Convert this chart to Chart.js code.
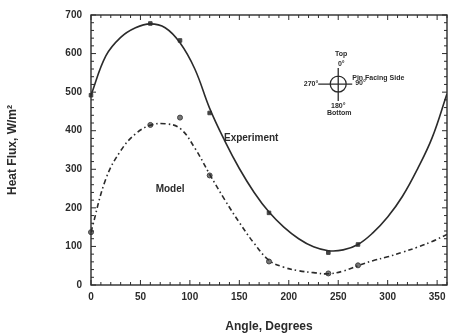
<!DOCTYPE html>
<html>
<head>
<meta charset="utf-8">
<script src="https://cdn.jsdelivr.net/npm/chart.js@4.4.1/dist/chart.umd.min.js"></script>
<style>
  html, body { margin: 0; padding: 0; background: #fff; }
  #wrap { width: 452px; height: 334px; }
</style>
</head>
<body>
<div id="wrap"><canvas id="myChart" width="452" height="334"></canvas></div>
<script>
'use strict';

// measured points
const angles = [0, 60, 90, 120, 180, 240, 270];
const experiment = [492, 678, 634, 446, 187, 84, 105];
const model = [137, 415, 434, 284, 61, 30, 51];

// fitted curves
const curveAngles = [0, 15, 30, 45, 60, 75, 90, 105, 120, 135, 150, 165, 180, 195, 210, 225, 240, 255, 270, 285, 300, 315, 330, 345, 360];
const experimentCurve = [492, 594, 642, 667, 677, 667, 628, 560, 458, 375, 302, 240, 189, 150, 120, 99, 89, 91, 105, 135, 176, 230, 300, 382, 496];
const modelCurve = [137, 275, 348, 392, 414, 418, 406, 355, 287, 222, 162, 108, 64, 46, 37, 32, 29, 36, 50, 63, 73, 85, 98, 113, 131];

const xTicks = [0, 50, 100, 150, 200, 250, 300, 350];
const yTicks = [0, 100, 200, 300, 400, 500, 600, 700];

const ink = '#2b2b2b';
const pairs = (xs, ys) => xs.map((x, i) => ({ x: x, y: ys[i] }));

const framePlugin = {
    id: 'frame',
    afterDatasetsDraw(chart) {
        const { ctx, chartArea: a, scales: { x, y } } = chart;
        ctx.save();
        ctx.strokeStyle = ink;
        ctx.lineWidth = 1.4;
        ctx.strokeRect(a.left, a.top, a.right - a.left, a.bottom - a.top);
        ctx.lineWidth = 1;
        ctx.beginPath();
        for (let v = 0; v <= 360; v += 10) {
            const px = x.getPixelForValue(v);
            const len = v % 50 === 0 ? 5 : 3;
            ctx.moveTo(px, a.bottom); ctx.lineTo(px, a.bottom - len);
            ctx.moveTo(px, a.top); ctx.lineTo(px, a.top + len);
        }
        for (let v = 0; v <= 700; v += 20) {
            const py = y.getPixelForValue(v);
            const len = v % 100 === 0 ? 5 : 3;
            ctx.moveTo(a.left, py); ctx.lineTo(a.left + len, py);
            ctx.moveTo(a.right, py); ctx.lineTo(a.right - len, py);
        }
        ctx.stroke();
        ctx.restore();
    }
};

const notesPlugin = {
    id: 'notes',
    afterDraw(chart) {
        const { ctx, scales: { x, y } } = chart;
        ctx.save();
        ctx.fillStyle = ink;
        ctx.textAlign = 'center';
        ctx.textBaseline = 'middle';
        ctx.font = 'bold 10px "Liberation Sans", Arial, sans-serif';
        ctx.fillText('Experiment', x.getPixelForValue(162), y.getPixelForValue(381));
        ctx.fillText('Model', x.getPixelForValue(80), y.getPixelForValue(248));

        // orientation sketch
        const cx = x.getPixelForValue(250);
        const cy = y.getPixelForValue(521);
        ctx.strokeStyle = ink;
        ctx.lineWidth = 1.3;
        ctx.beginPath();
        ctx.arc(cx, cy, 8, 0, Math.PI * 2);
        ctx.moveTo(cx - 20, cy); ctx.lineTo(cx + 14, cy);
        ctx.moveTo(cx, cy - 16); ctx.lineTo(cx, cy + 17);
        ctx.stroke();
        ctx.font = 'bold 7px "Liberation Sans", Arial, sans-serif';
        ctx.fillText('Top', cx + 3, cy - 30);
        ctx.fillText('0\u00b0', cx + 3, cy - 20);
        ctx.fillText('180\u00b0', cx, cy + 22);
        ctx.fillText('Bottom', cx + 1, cy + 29);
        ctx.textAlign = 'right';
        ctx.fillText('270\u00b0', cx - 20, cy);
        ctx.textAlign = 'left';
        ctx.fillText('Pin Facing Side', cx + 14, cy - 6);
        ctx.fillText('90\u00b0', cx + 17, cy - 1);
        ctx.restore();
    }
};

const data = {
    datasets: [
        {
            label: 'Experiment fit',
            data: pairs(curveAngles, experimentCurve),
            showLine: true,
            borderColor: ink,
            borderWidth: 1.6,
            pointRadius: 0,
            tension: 0.4,
            fill: false
        },
        {
            label: 'Model fit',
            data: pairs(curveAngles, modelCurve),
            showLine: true,
            borderColor: ink,
            borderWidth: 1.6,
            borderDash: [5, 3, 1.5, 3],
            pointRadius: 0,
            tension: 0.4,
            fill: false
        },
        {
            label: 'Experiment',
            data: pairs(angles, experiment),
            showLine: false,
            clip: false,
            pointStyle: 'rect',
            pointRadius: 2.5,
            backgroundColor: '#444',
            borderColor: '#444',
            borderWidth: 1
        },
        {
            label: 'Model',
            data: pairs(angles, model),
            showLine: false,
            clip: false,
            pointStyle: 'circle',
            pointRadius: 2.5,
            backgroundColor: '#777',
            borderColor: '#444',
            borderWidth: 1
        }
    ]
};

const ctx = document.getElementById('myChart').getContext('2d');
const myChart = new Chart(ctx, {
    type: 'scatter',
    data: data,
    options: {
        responsive: false,
        animation: false,
        layout: { padding: { top: 11, right: 1, left: 0, bottom: 0 } },
        plugins: {
            legend: { display: false },
            tooltip: { enabled: false }
        },
        scales: {
            x: {
                type: 'linear',
                min: 0,
                max: 360,
                afterBuildTicks: s => { s.ticks = xTicks.map(v => ({ value: v })); },
                afterFit: s => { s.height = 49; },
                grid: { display: false, drawTicks: false },
                border: { display: false },
                ticks: {
                    color: ink,
                    padding: 6,
                    maxRotation: 0,
                    autoSkip: false,
                    font: { family: '"Liberation Sans", Arial, sans-serif', size: 10, weight: 'bold' }
                },
                title: {
                    display: true,
                    text: 'Angle, Degrees',
                    color: ink,
                    padding: { top: 0, bottom: 0 },
                    font: { family: '"Liberation Sans", Arial, sans-serif', size: 12, weight: 'bold' }
                }
            },
            y: {
                min: 0,
                max: 700,
                afterBuildTicks: s => { s.ticks = yTicks.map(v => ({ value: v })); },
                afterFit: s => { s.width = 91; },
                grid: { display: false, drawTicks: false },
                border: { display: false },
                ticks: {
                    color: ink,
                    padding: 9,
                    font: { family: '"Liberation Sans", Arial, sans-serif', size: 10, weight: 'bold' }
                },
                title: {
                    display: true,
                    text: 'Heat Flux, W/m\u00b2',
                    color: ink,
                    padding: { top: 5, bottom: 0 },
                    font: { family: '"Liberation Sans", Arial, sans-serif', size: 12, weight: 'bold' }
                }
            }
        }
    },
    plugins: [framePlugin, notesPlugin]
});
</script>
</body>
</html>
